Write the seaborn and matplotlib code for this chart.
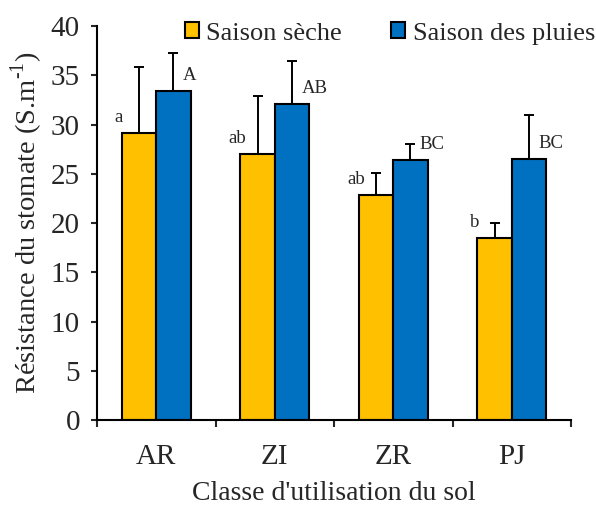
import numpy as np
import pandas as pd
import matplotlib
matplotlib.use('Agg')
import matplotlib.pyplot as plt
from matplotlib.patches import Patch
import seaborn as sns

# --- data ---
categories = ['AR', 'ZI', 'ZR', 'PJ']
seasons = ['Saison sèche', 'Saison des pluies']
dry_mean = [29.1, 27.0, 22.8, 18.5]
dry_err = [6.7, 5.9, 2.3, 1.5]
wet_mean = [33.4, 32.1, 26.4, 26.5]
wet_err = [3.9, 4.3, 1.6, 4.5]
dry_letters = ['a', 'ab', 'ab', 'b']
wet_letters = ['A', 'AB', 'BC', 'BC']
colors = ['#FFC000', '#0070C0']

df = pd.DataFrame({
    'classe': categories * 2,
    'saison': [seasons[0]] * 4 + [seasons[1]] * 4,
    'valeur': dry_mean + wet_mean,
})

sns.set_style('ticks')
plt.rcParams['font.family'] = ['Liberation Serif', 'DejaVu Serif']
plt.rcParams['mathtext.fontset'] = 'custom'
plt.rcParams['mathtext.rm'] = 'Liberation Serif'

fig = plt.figure(figsize=(5.96, 5.07), dpi=100)
ax = fig.add_axes([0.1628, 0.1716, 0.7953, 0.7771])

sns.barplot(data=df, x='classe', y='valeur', hue='saison', order=categories,
            hue_order=seasons, palette=colors, width=0.58, gap=0,
            edgecolor='black', linewidth=1.5, errorbar=None, legend=False,
            saturation=1, ax=ax)

# upper error bars and significance letters
for cont, errs, letters, side in zip(ax.containers, [dry_err, wet_err],
                                     [dry_letters, wet_letters], ['left', 'right']):
    xs = np.array([p.get_x() + p.get_width() / 2 for p in cont])
    ys = np.array([p.get_height() for p in cont])
    ax.errorbar(xs, ys, yerr=[np.zeros(len(errs)), errs], fmt='none',
                ecolor='black', elinewidth=1.4, capsize=3.6, capthick=1.4, zorder=1)
    for x, y, lab in zip(xs, ys, letters):
        if side == 'left':
            ax.text(x - 0.17, y + 1.6, lab, ha='center', va='center', fontsize=13.5)
        else:
            ax.text(x + 0.08, y + 1.6, lab, ha='left', va='center', fontsize=13.5)

ax.set_ylim(0, 40)
ax.set_xlim(-0.5, 3.5)
ax.set_yticks(np.arange(0, 41, 5))
ax.set_xticks(range(len(categories)))
ax.set_xticklabels(categories)
ax.set_xticks(np.arange(-0.5, 3.6, 1), minor=True)
ax.tick_params(axis='x', which='major', length=0, pad=17, labelsize=21)
ax.tick_params(axis='x', which='minor', length=5, width=1.5, direction='out')
ax.tick_params(axis='y', length=4.3, width=1.5, direction='out', pad=8, labelsize=21)
for s in ['top', 'right']:
    ax.spines[s].set_visible(False)
for s in ['left', 'bottom']:
    ax.spines[s].set_linewidth(1.5)
    ax.spines[s].set_color('black')

ax.set_xlabel("Classe d'utilisation du sol", fontsize=20, labelpad=8)
ax.set_ylabel('Résistance du stomate (S.m$^{\\mathrm{\u2010}1}$)', fontsize=20.5, labelpad=4)

handles = [Patch(facecolor=c, edgecolor='black', linewidth=1.5) for c in colors]
fig.legend(handles, seasons, loc='center', bbox_to_anchor=(0.654, 0.934), ncol=2,
           frameon=False, fontsize=19, handlelength=0.55, handleheight=0.55,
           handletextpad=0.27, columnspacing=1.85)

fig.savefig('out.png', dpi=100)
